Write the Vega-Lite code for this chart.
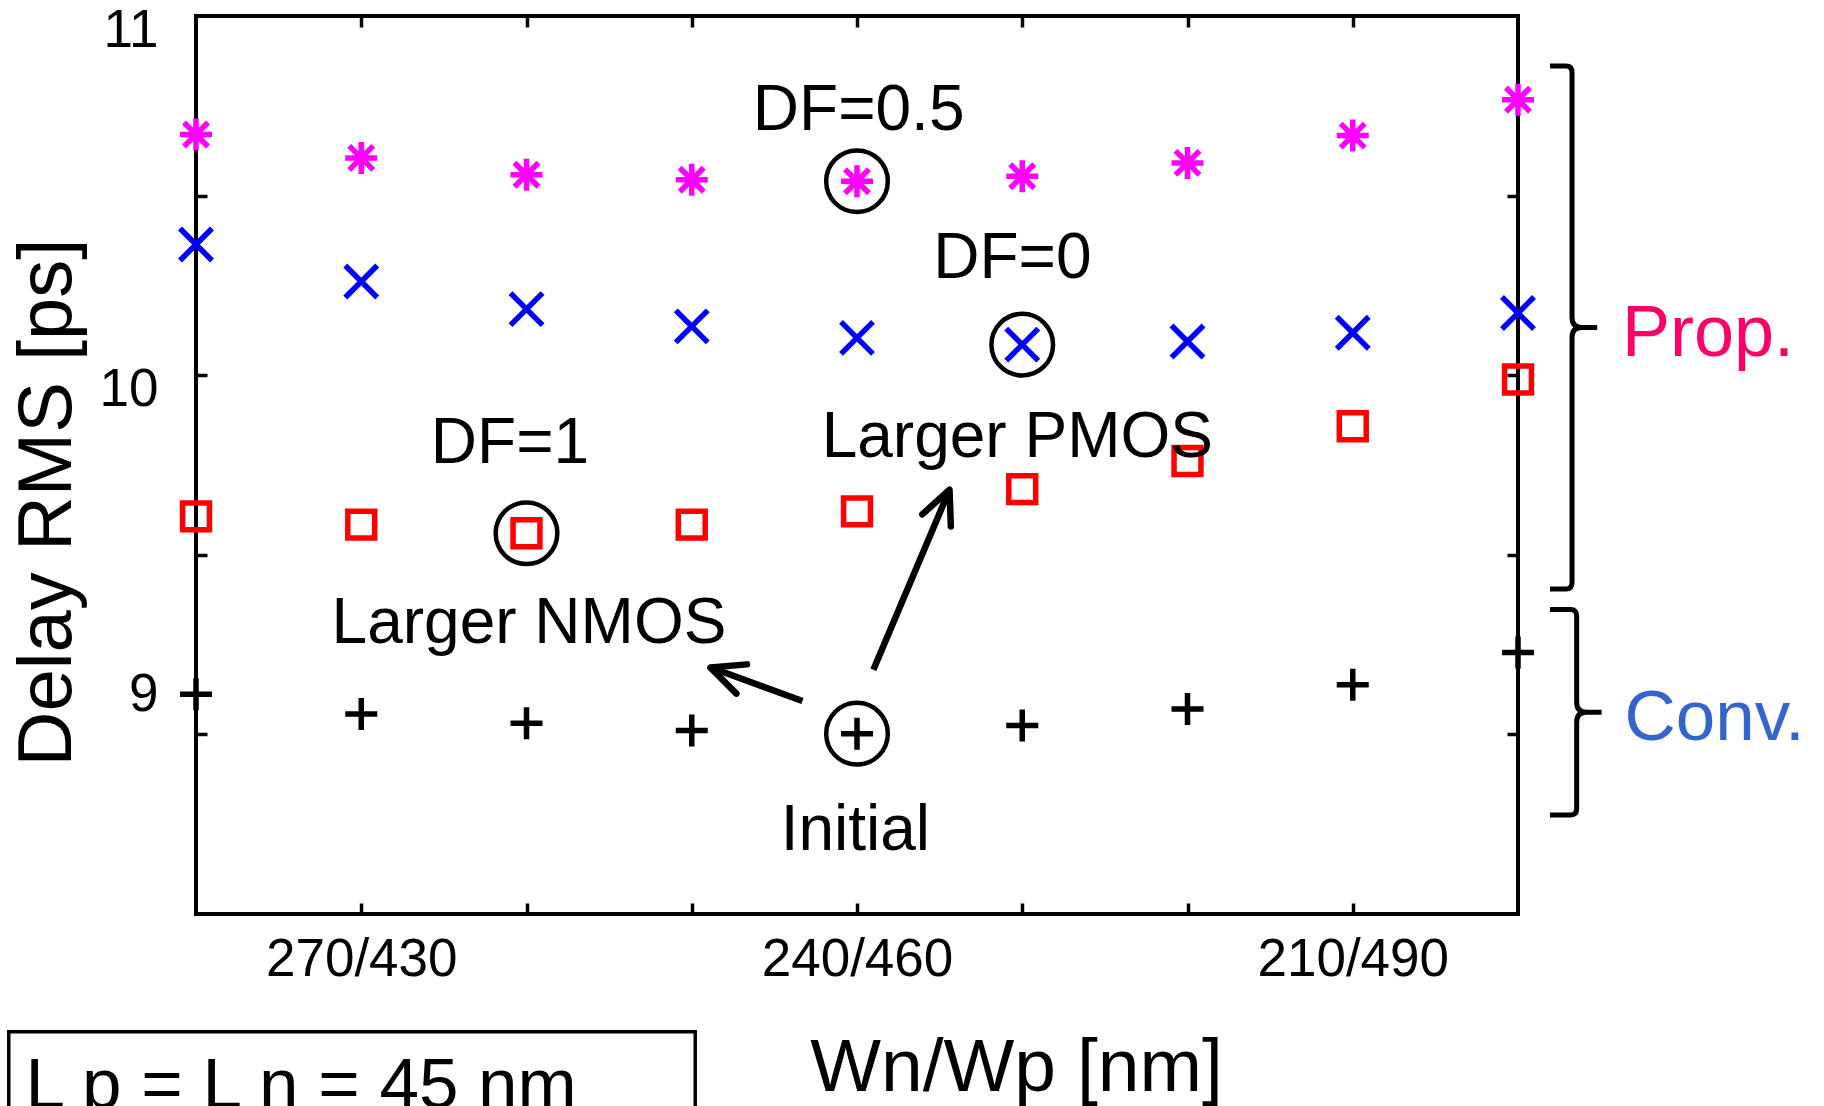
{
  "$schema": "https://vega.github.io/schema/vega-lite/v6.json",
  "width": 1322,
  "height": 898,
  "autosize": {"type": "none"},
  "padding": {"left": 196, "top": 16, "right": 306, "bottom": 192},
  "background": "white",
  "config": {
    "font": "Liberation Sans",
    "view": {"stroke": "black", "strokeWidth": 4},
    "axis": {"domain": false, "grid": false, "tickColor": "black", "tickWidth": 3.5, "tickSize": -11, "labelColor": "black", "titleColor": "black", "labelFont": "Liberation Sans", "titleFont": "Liberation Sans", "titleFontWeight": "normal", "labelLimit": 0}
  },
  "datasets": {
    "delay": [
      {"series": "DF=0.5", "Wn": 280, "delay": 10.670},
      {"series": "DF=0.5", "Wn": 270, "delay": 10.605},
      {"series": "DF=0.5", "Wn": 260, "delay": 10.558},
      {"series": "DF=0.5", "Wn": 250, "delay": 10.544},
      {"series": "DF=0.5", "Wn": 240, "delay": 10.540},
      {"series": "DF=0.5", "Wn": 230, "delay": 10.554},
      {"series": "DF=0.5", "Wn": 220, "delay": 10.591},
      {"series": "DF=0.5", "Wn": 210, "delay": 10.667},
      {"series": "DF=0.5", "Wn": 200, "delay": 10.767},
      {"series": "DF=0", "Wn": 280, "delay": 10.364},
      {"series": "DF=0", "Wn": 270, "delay": 10.261},
      {"series": "DF=0", "Wn": 260, "delay": 10.184},
      {"series": "DF=0", "Wn": 250, "delay": 10.136},
      {"series": "DF=0", "Wn": 240, "delay": 10.104},
      {"series": "DF=0", "Wn": 230, "delay": 10.085},
      {"series": "DF=0", "Wn": 220, "delay": 10.094},
      {"series": "DF=0", "Wn": 210, "delay": 10.118},
      {"series": "DF=0", "Wn": 200, "delay": 10.173},
      {"series": "DF=1", "Wn": 280, "delay": 9.607},
      {"series": "DF=1", "Wn": 270, "delay": 9.584},
      {"series": "DF=1", "Wn": 260, "delay": 9.560},
      {"series": "DF=1", "Wn": 250, "delay": 9.584},
      {"series": "DF=1", "Wn": 240, "delay": 9.621},
      {"series": "DF=1", "Wn": 230, "delay": 9.683},
      {"series": "DF=1", "Wn": 220, "delay": 9.761},
      {"series": "DF=1", "Wn": 210, "delay": 9.858},
      {"series": "DF=1", "Wn": 200, "delay": 9.988},
      {"series": "Conv.", "Wn": 280, "delay": 9.112},
      {"series": "Conv.", "Wn": 270, "delay": 9.057},
      {"series": "Conv.", "Wn": 260, "delay": 9.031},
      {"series": "Conv.", "Wn": 250, "delay": 9.011},
      {"series": "Conv.", "Wn": 240, "delay": 9.002},
      {"series": "Conv.", "Wn": 230, "delay": 9.025},
      {"series": "Conv.", "Wn": 220, "delay": 9.071},
      {"series": "Conv.", "Wn": 210, "delay": 9.138},
      {"series": "Conv.", "Wn": 200, "delay": 9.228}
    ]
  },
  "resolve": {"scale": {"x": "independent", "y": "independent"}},
  "layer": [
    {
      "layer": [
        {
          "data": {"name": "delay"},
          "mark": {"type": "point", "filled": false, "strokeWidth": 5.5, "size": 1024, "opacity": 1},
          "encoding": {
            "x": {"field": "Wn", "type": "quantitative", "scale": {"domain": [200, 280], "reverse": true, "nice": false},
              "axis": {"orient": "bottom", "values": [270, 260, 250, 240, 230, 220, 210],
                "labelExpr": "datum.value % 30 == 0 ? datum.value + '/' + (700 - datum.value) : ''",
                "labelFontSize": 53, "labelPadding": 30, "labelBaseline": "top", "labelFlush": false, "labelOverlap": false, "labelLimit": 0,
                "title": "Wn/Wp [nm]", "titleFontSize": 75, "titleX": 820, "titleY": 176, "titleAlign": "center", "titleBaseline": "alphabetic", "titleAngle": 0}},
            "y": {"field": "delay", "type": "quantitative", "scale": {"domain": [8.5, 11], "nice": false},
              "axis": {"orient": "left", "values": [11, 10.5, 10, 9.5, 9.15, 9],
                "labelExpr": "datum.value == 11 ? '11' : datum.value == 10 ? '10' : datum.value == 9.15 ? '9' : ''",
                "tickOpacity": {"condition": {"test": "datum.value == 11 || datum.value == 9.15", "value": 0}, "value": 1},
                "labelFontSize": 53, "labelPadding": 49, "labelOffset": 14, "labelBaseline": "middle", "labelAlign": "right", "labelFlush": false, "labelOverlap": false,
                "title": "Delay RMS [ps]", "titleFontSize": 76, "titleAngle": 270, "titleX": -126, "titleY": 486, "titleAlign": "center", "titleBaseline": "alphabetic"}},
            "shape": {"field": "series", "type": "nominal", "legend": null,
              "scale": {"domain": ["DF=0.5", "DF=0", "DF=1", "Conv."],
                "range": [
                  "M -1 0 L 1 0 M 0 -1 L 0 1 M -0.75 -0.75 L 0.75 0.75 M -0.75 0.75 L 0.75 -0.75",
                  "M -1 -1 L 1 1 M -1 1 L 1 -1",
                  "M -0.84 -0.84 L 0.84 -0.84 L 0.84 0.84 L -0.84 0.84 Z",
                  "M -1 0 L 1 0 M 0 -1 L 0 1"
                ]}},
            "color": {"field": "series", "type": "nominal", "legend": null,
              "scale": {"domain": ["DF=0.5", "DF=0", "DF=1", "Conv."], "range": ["#FF00FF", "#0000FF", "#FF0000", "#000000"]}}
          }
        },
        {
          "data": {"name": "delay"},
          "transform": [{"filter": "(datum.series == 'DF=0.5' && datum.Wn == 240) || (datum.series == 'DF=0' && datum.Wn == 230) || (datum.series == 'DF=1' && datum.Wn == 260) || (datum.series == 'Conv.' && datum.Wn == 240)"}],
          "mark": {"type": "point", "shape": "circle", "filled": false, "color": "black", "strokeWidth": 4.5, "size": 3800, "opacity": 1},
          "encoding": {
            "x": {"field": "Wn", "type": "quantitative", "scale": {"domain": [200, 280], "reverse": true, "nice": false}},
            "y": {"field": "delay", "type": "quantitative", "scale": {"domain": [8.5, 11], "nice": false}}
          }
        },
        {
          "data": {"values": [{}]},
          "mark": {"type": "text", "text": "DF=0.5", "fontSize": 64, "align": "center", "baseline": "alphabetic", "color": "black"},
          "encoding": {"x": {"datum": 239.9, "type": "quantitative", "scale": {"domain": [200, 280], "reverse": true, "nice": false}}, "y": {"datum": 10.683, "type": "quantitative", "scale": {"domain": [8.5, 11], "nice": false}}}
        },
        {
          "data": {"values": [{}]},
          "mark": {"type": "text", "text": "DF=0", "fontSize": 64, "align": "center", "baseline": "alphabetic", "color": "black"},
          "encoding": {"x": {"datum": 230.6, "type": "quantitative", "scale": {"domain": [200, 280], "reverse": true, "nice": false}}, "y": {"datum": 10.271, "type": "quantitative", "scale": {"domain": [8.5, 11], "nice": false}}}
        },
        {
          "data": {"values": [{}]},
          "mark": {"type": "text", "text": "Larger PMOS", "fontSize": 64, "align": "center", "baseline": "alphabetic", "color": "black"},
          "encoding": {"x": {"datum": 230.3, "type": "quantitative", "scale": {"domain": [200, 280], "reverse": true, "nice": false}}, "y": {"datum": 9.773, "type": "quantitative", "scale": {"domain": [8.5, 11], "nice": false}}}
        },
        {
          "data": {"values": [{}]},
          "mark": {"type": "text", "text": "DF=1", "fontSize": 64, "align": "center", "baseline": "alphabetic", "color": "black"},
          "encoding": {"x": {"datum": 261.0, "type": "quantitative", "scale": {"domain": [200, 280], "reverse": true, "nice": false}}, "y": {"datum": 9.756, "type": "quantitative", "scale": {"domain": [8.5, 11], "nice": false}}}
        },
        {
          "data": {"values": [{}]},
          "mark": {"type": "text", "text": "Larger NMOS", "fontSize": 64, "align": "center", "baseline": "alphabetic", "color": "black"},
          "encoding": {"x": {"datum": 259.85, "type": "quantitative", "scale": {"domain": [200, 280], "reverse": true, "nice": false}}, "y": {"datum": 9.254, "type": "quantitative", "scale": {"domain": [8.5, 11], "nice": false}}}
        },
        {
          "data": {"values": [{}]},
          "mark": {"type": "text", "text": "Initial", "fontSize": 64, "align": "center", "baseline": "alphabetic", "color": "black"},
          "encoding": {"x": {"datum": 240.1, "type": "quantitative", "scale": {"domain": [200, 280], "reverse": true, "nice": false}}, "y": {"datum": 8.679, "type": "quantitative", "scale": {"domain": [8.5, 11], "nice": false}}}
        },
        {
          "data": {"values": [{}]},
          "mark": {"type": "text", "text": "Prop.", "fontSize": 72, "align": "center", "baseline": "alphabetic", "color": "#FF0066"},
          "encoding": {"x": {"datum": 188.5, "type": "quantitative", "scale": {"domain": [200, 280], "reverse": true, "nice": false}}, "y": {"datum": 10.0535, "type": "quantitative", "scale": {"domain": [8.5, 11], "nice": false}}}
        },
        {
          "data": {"values": [{}]},
          "mark": {"type": "text", "text": "Conv.", "fontSize": 71, "align": "center", "baseline": "alphabetic", "color": "#3366CC"},
          "encoding": {"x": {"datum": 188.1, "type": "quantitative", "scale": {"domain": [200, 280], "reverse": true, "nice": false}}, "y": {"datum": 8.984, "type": "quantitative", "scale": {"domain": [8.5, 11], "nice": false}}}
        },
        {
          "data": {"values": [{}]},
          "mark": {"type": "point", "shape": "M -0.084 -1 L -0.023 -1 Q 0 -1 0 -0.975 L 0 -0.038 Q 0 0 0.038 0 L 0.096 0 M 0.038 0 Q 0 0 0 0.038 L 0 0.975 Q 0 1 -0.023 1 L -0.084 1", "size": 273529, "filled": false, "color": "black", "strokeWidth": 5, "opacity": 1},
          "encoding": {"x": {"datum": 196.73, "type": "quantitative", "scale": {"domain": [200, 280], "reverse": true, "nice": false}}, "y": {"datum": 10.133, "type": "quantitative", "scale": {"domain": [8.5, 11], "nice": false}}}
        },
        {
          "data": {"values": [{}]},
          "mark": {"type": "point", "shape": "M -0.26 -1 L -0.058 -1 Q 0 -1 0 -0.94 L 0 -0.097 Q 0 0 0.097 0 L 0.243 0 M 0.097 0 Q 0 0 0 0.097 L 0 0.94 Q 0 1 -0.058 1 L -0.26 1", "size": 42189, "filled": false, "color": "black", "strokeWidth": 5, "opacity": 1},
          "encoding": {"x": {"datum": 196.45, "type": "quantitative", "scale": {"domain": [200, 280], "reverse": true, "nice": false}}, "y": {"datum": 9.0615, "type": "quantitative", "scale": {"domain": [8.5, 11], "nice": false}}}
        },
        {
          "data": {"values": [{}]},
          "mark": {"type": "rule", "color": "black", "strokeWidth": 6.5},
          "encoding": {"x": {"datum": 243.30, "type": "quantitative", "scale": {"domain": [200, 280], "reverse": true, "nice": false}}, "y": {"datum": 9.093, "type": "quantitative", "scale": {"domain": [8.5, 11], "nice": false}}, "x2": {"datum": 248.6}, "y2": {"datum": 9.182}}
        },
        {
          "data": {"values": [{}]},
          "mark": {"type": "rule", "color": "black", "strokeWidth": 6.5},
          "encoding": {"x": {"datum": 239.01, "type": "quantitative", "scale": {"domain": [200, 280], "reverse": true, "nice": false}}, "y": {"datum": 9.180, "type": "quantitative", "scale": {"domain": [8.5, 11], "nice": false}}, "x2": {"datum": 234.55}, "y2": {"datum": 9.665}}
        },
        {
          "data": {"values": [{}]},
          "mark": {"type": "point", "shape": "M -0.42 0.9 L 0 0 L 0.42 0.9", "size": 5476, "angle": 290, "filled": false, "color": "black", "strokeWidth": 6.5, "strokeJoin": "round", "strokeCap": "round", "opacity": 1},
          "encoding": {"x": {"datum": 248.87, "type": "quantitative", "scale": {"domain": [200, 280], "reverse": true, "nice": false}}, "y": {"datum": 9.186, "type": "quantitative", "scale": {"domain": [8.5, 11], "nice": false}}}
        },
        {
          "data": {"values": [{}]},
          "mark": {"type": "point", "shape": "M -0.42 0.9 L 0 0 L 0.42 0.9", "size": 5476, "angle": 23, "filled": false, "color": "black", "strokeWidth": 6.5, "strokeJoin": "round", "strokeCap": "round", "opacity": 1},
          "encoding": {"x": {"datum": 234.40, "type": "quantitative", "scale": {"domain": [200, 280], "reverse": true, "nice": false}}, "y": {"datum": 9.681, "type": "quantitative", "scale": {"domain": [8.5, 11], "nice": false}}}
        },
        {
          "data": {"values": [{}]},
          "mark": {"type": "rect", "fillOpacity": 0, "stroke": "black", "strokeWidth": 3.5},
          "encoding": {"x": {"datum": 291.33, "type": "quantitative", "scale": {"domain": [200, 280], "reverse": true, "nice": false}}, "x2": {"datum": 249.79}, "y": {"datum": 8.1722, "type": "quantitative", "scale": {"domain": [8.5, 11], "nice": false}}, "y2": {"datum": 7.8987}}
        },
        {
          "data": {"values": [{}]},
          "mark": {"type": "text", "text": "L p = L n = 45 nm", "fontSize": 71, "align": "left", "baseline": "alphabetic", "color": "black"},
          "encoding": {"x": {"datum": 290.32, "type": "quantitative", "scale": {"domain": [200, 280], "reverse": true, "nice": false}}, "y": {"datum": 7.960, "type": "quantitative", "scale": {"domain": [8.5, 11], "nice": false}}}
        }
      ]
    },
    {
      "data": {"name": "delay"},
      "mark": {"type": "point", "opacity": 0},
      "encoding": {
        "x": {"field": "Wn", "type": "quantitative", "scale": {"domain": [200, 280], "reverse": true, "nice": false},
          "axis": {"orient": "top", "values": [270, 260, 250, 240, 230, 220, 210], "labels": false, "title": null}},
        "y": {"field": "delay", "type": "quantitative", "scale": {"domain": [8.5, 11], "nice": false},
          "axis": {"orient": "right", "values": [10.5, 10, 9.5, 9], "labels": false, "title": null}}
      }
    }
  ]
}
